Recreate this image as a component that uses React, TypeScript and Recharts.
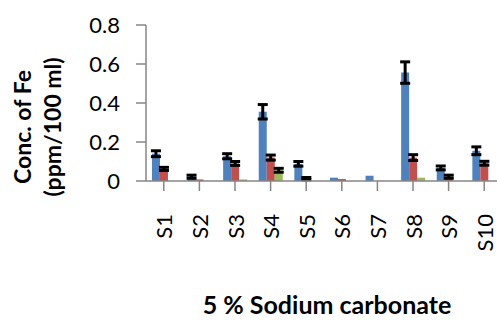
import React from "react";
import { BarChart, Bar, XAxis, YAxis, ErrorBar } from "recharts";

const samples = ["S1", "S2", "S3", "S4", "S5", "S6", "S7", "S8", "S9", "S10"];
const blueVals = [0.14, 0.022, 0.127, 0.355, 0.088, 0.017, 0.027, 0.556, 0.067, 0.155];
const blueErr = [0.015, 0.008, 0.013, 0.037, 0.012, 0, 0, 0.055, 0.01, 0.02];
const redVals = [0.062, 0.008, 0.09, 0.12, 0.012, 0.01, 0, 0.12, 0.022, 0.091];
const redErr = [0.008, 0, 0.01, 0.013, 0.006, 0, 0, 0.015, 0.008, 0.01];
const greenVals = [0, 0, 0.008, 0.055, 0, 0, 0, 0.017, 0, 0];
const greenErr = [0, 0, 0, 0.01, 0, 0, 0, 0, 0, 0];
const yTicks = [0, 0.2, 0.4, 0.6, 0.8];

const FONT = "Lato, 'Open Sans', sans-serif";
const AXIS = "#868686";

const data = samples.map((s, i) => ({
  name: s,
  blue: blueVals[i],
  blueErr: blueErr[i],
  red: redVals[i],
  redErr: redErr[i],
  green: greenVals[i],
  greenErr: greenErr[i],
}));

function SampleTick(props: any) {
  const { x, payload } = props;
  const y = 214;
  return (
    <text
      x={x}
      y={y}
      transform={`rotate(-90 ${x} ${y})`}
      textAnchor="end"
      dominantBaseline="central"
      fontSize={22}
      fontFamily={FONT}
      fill="#000"
    >
      {payload.value}
    </text>
  );
}

function YTitle() {
  const cy = 127;
  return (
    <g fontFamily={FONT} fontWeight="bold" fontSize={23} fill="#000">
      <text x={22} y={cy} transform={`rotate(-90 22 ${cy})`} textAnchor="middle" dominantBaseline="central">
        Conc. of Fe
      </text>
      <text x={52} y={cy} transform={`rotate(-90 52 ${cy})`} textAnchor="middle" dominantBaseline="central">
        (ppm/100 ml)
      </text>
    </g>
  );
}

function XTitle() {
  return (
    <text x={327} y={304} textAnchor="middle" dominantBaseline="central" fontFamily={FONT} fontWeight="bold" fontSize={25} fill="#000">
      5 % Sodium carbonate
    </text>
  );
}

export default function App() {
  return (
    <div style={{ position: "absolute", left: 0, top: 0, width: 497, height: 320, overflow: "hidden", background: "#fff" }}>
      <BarChart
        width={510}
        height={320}
        data={data}
        margin={{ top: 25, right: 8, left: 0, bottom: 0 }}
        barCategoryGap="16.7%"
        barGap={0}
      >
        <XAxis
          dataKey="name"
          height={139}
          tick={<SampleTick />}
          tickSize={10}
          stroke={AXIS}
          axisLine={{ stroke: AXIS, strokeWidth: 1.5 }}
          tickLine={{ stroke: AXIS, strokeWidth: 1.5 }}
          interval={0}
          label={{ content: () => <XTitle /> }}
        />
        <YAxis
          width={146}
          domain={[0, 0.8]}
          ticks={yTicks}
          tickFormatter={(v: number) => String(v)}
          tickSize={10}
          tickMargin={16}
          tick={{ fontSize: 22, fontFamily: FONT, fill: "#000" }}
          axisLine={{ stroke: AXIS, strokeWidth: 1.5 }}
          tickLine={{ stroke: AXIS, strokeWidth: 1.5 }}
          label={{ content: () => <YTitle /> }}
        />
        <Bar dataKey="blue" fill="#4F81BD" isAnimationActive={false}>
          <ErrorBar dataKey="blueErr" width={5} stroke="#000" strokeWidth={3} direction="y" />
        </Bar>
        <Bar dataKey="red" fill="#C0504D" isAnimationActive={false}>
          <ErrorBar dataKey="redErr" width={5} stroke="#000" strokeWidth={3} direction="y" />
        </Bar>
        <Bar dataKey="green" fill="#9BBB59" isAnimationActive={false}>
          <ErrorBar dataKey="greenErr" width={5} stroke="#000" strokeWidth={3} direction="y" />
        </Bar>
      </BarChart>
    </div>
  );
}
